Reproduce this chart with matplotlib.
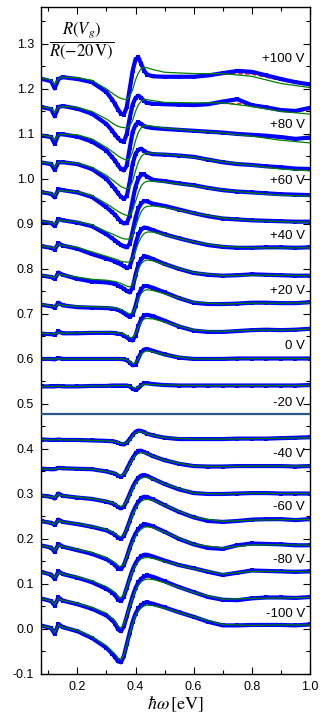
import matplotlib
matplotlib.use("Agg")
import matplotlib.pyplot as plt
from matplotlib.ticker import MultipleLocator, FormatStrFormatter

plt.rcParams["font.family"] = ["Liberation Sans", "DejaVu Sans"]
plt.rcParams["mathtext.fontset"] = "stix"
plt.rcParams["axes.unicode_minus"] = False

# photon energy grids (eV)
X_DATA = [0.08, 0.11, 0.122, 0.135, 0.15,
          0.20, 0.25, 0.30, 0.32, 0.33,
          0.34, 0.35, 0.36, 0.37, 0.38, 0.39, 0.40, 0.41, 0.42, 0.43, 0.44,
          0.46, 0.50, 0.55, 0.60, 0.65,
          0.70, 0.75, 0.80, 0.85, 0.90, 0.95, 1.00]
X_FIT = [0.08, 0.11, 0.122, 0.135, 0.15,
         0.20, 0.25, 0.30, 0.33,
         0.34, 0.35, 0.36, 0.37, 0.38, 0.39, 0.40, 0.41, 0.42, 0.43, 0.44,
         0.46, 0.50, 0.60, 0.70, 0.80, 0.90, 1.00]

# measured ratio (blue squares), offset curves from +100 V down to -100 V
D_P100 = [1.222, 1.217, 1.201, 1.222, 1.226, 1.222, 1.215, 1.193, 1.176, 1.166,
          1.154, 1.145, 1.143, 1.160, 1.200, 1.240, 1.266, 1.270, 1.255, 1.240, 1.232,
          1.228, 1.227, 1.227, 1.227, 1.230, 1.235, 1.240, 1.238, 1.230, 1.222, 1.215, 1.210]
D_P90 = [1.159, 1.155, 1.139, 1.160, 1.162, 1.156, 1.145, 1.122, 1.107, 1.098,
         1.090, 1.084, 1.083, 1.100, 1.135, 1.165, 1.180, 1.185, 1.180, 1.173, 1.169,
         1.167, 1.166, 1.165, 1.164, 1.166, 1.172, 1.177, 1.164, 1.159, 1.153, 1.151, 1.158]
D_P80 = [1.096, 1.093, 1.078, 1.099, 1.099, 1.094, 1.083, 1.063, 1.048, 1.040,
         1.030, 1.022, 1.019, 1.030, 1.068, 1.104, 1.120, 1.126, 1.122, 1.117, 1.115,
         1.113, 1.111, 1.109, 1.107, 1.105, 1.103, 1.100, 1.098, 1.096, 1.093, 1.089, 1.092]
D_P70 = [1.036, 1.033, 1.020, 1.037, 1.037, 1.033, 1.022, 1.000, 0.985, 0.977,
         0.968, 0.960, 0.956, 0.962, 0.993, 1.033, 1.056, 1.065, 1.067, 1.062, 1.058,
         1.055, 1.054, 1.052, 1.049, 1.043, 1.037, 1.033, 1.031, 1.028, 1.026, 1.023, 1.022]
D_P60 = [0.970, 0.967, 0.959, 0.977, 0.975, 0.970, 0.960, 0.937, 0.926, 0.920,
         0.912, 0.905, 0.901, 0.902, 0.918, 0.952, 0.983, 1.001, 1.010, 1.010, 1.005,
         0.998, 0.995, 0.990, 0.986, 0.980, 0.975, 0.972, 0.970, 0.968, 0.966, 0.965, 0.964]
D_P50 = [0.905, 0.902, 0.895, 0.911, 0.908, 0.903, 0.895, 0.877, 0.868, 0.863,
         0.858, 0.853, 0.850, 0.848, 0.856, 0.883, 0.914, 0.935, 0.946, 0.951, 0.950,
         0.945, 0.940, 0.932, 0.924, 0.917, 0.912, 0.910, 0.908, 0.907, 0.906, 0.905, 0.905]
D_P40 = [0.850, 0.847, 0.843, 0.857, 0.852, 0.845, 0.833, 0.823, 0.819, 0.816,
         0.813, 0.810, 0.806, 0.802, 0.805, 0.826, 0.856, 0.877, 0.888, 0.892, 0.891,
         0.886, 0.877, 0.868, 0.860, 0.853, 0.849, 0.847, 0.847, 0.848, 0.848, 0.847, 0.848]
D_P30 = [0.785, 0.782, 0.778, 0.792, 0.787, 0.778, 0.772, 0.770, 0.768, 0.766,
         0.763, 0.760, 0.756, 0.751, 0.748, 0.758, 0.787, 0.810, 0.822, 0.828, 0.827,
         0.822, 0.811, 0.800, 0.791, 0.787, 0.785, 0.786, 0.788, 0.787, 0.786, 0.785, 0.785]
D_P20 = [0.720, 0.717, 0.714, 0.725, 0.719, 0.715, 0.714, 0.713, 0.712, 0.711,
         0.709, 0.706, 0.702, 0.697, 0.694, 0.698, 0.718, 0.742, 0.756, 0.762, 0.762,
         0.758, 0.748, 0.735, 0.725, 0.722, 0.722, 0.723, 0.725, 0.725, 0.724, 0.724, 0.726]
D_P10 = [0.656, 0.655, 0.654, 0.661, 0.657, 0.657, 0.658, 0.658, 0.658, 0.657,
         0.656, 0.655, 0.652, 0.648, 0.643, 0.641, 0.652, 0.673, 0.689, 0.697, 0.698,
         0.695, 0.685, 0.672, 0.663, 0.660, 0.660, 0.662, 0.664, 0.665, 0.664, 0.665, 0.667]
D_0 = [0.600, 0.600, 0.599, 0.602, 0.600, 0.600, 0.600, 0.600, 0.600, 0.600,
       0.600, 0.600, 0.599, 0.597, 0.592, 0.586, 0.587, 0.602, 0.615, 0.621, 0.622,
       0.618, 0.610, 0.603, 0.600, 0.600, 0.600, 0.601, 0.601, 0.601, 0.601, 0.601, 0.601]
D_M10 = [0.539, 0.539, 0.539, 0.540, 0.539, 0.539, 0.540, 0.540, 0.541, 0.541,
         0.541, 0.541, 0.541, 0.541, 0.539, 0.534, 0.531, 0.535, 0.542, 0.546, 0.546,
         0.544, 0.542, 0.541, 0.541, 0.541, 0.541, 0.541, 0.541, 0.541, 0.541, 0.541, 0.542]
D_M30 = [0.421, 0.420, 0.420, 0.421, 0.420, 0.420, 0.419, 0.418, 0.417, 0.416,
         0.414, 0.411, 0.410, 0.414, 0.422, 0.431, 0.438, 0.441, 0.440, 0.437, 0.434,
         0.430, 0.425, 0.422, 0.422, 0.422, 0.422, 0.423, 0.423, 0.423, 0.424, 0.425, 0.426]
D_M40 = [0.356, 0.355, 0.355, 0.358, 0.357, 0.356, 0.355, 0.350, 0.347, 0.345,
         0.341, 0.338, 0.343, 0.355, 0.368, 0.380, 0.390, 0.396, 0.396, 0.393, 0.390,
         0.384, 0.375, 0.367, 0.362, 0.361, 0.361, 0.362, 0.362, 0.362, 0.362, 0.361, 0.362]
D_M50 = [0.296, 0.294, 0.290, 0.301, 0.296, 0.292, 0.289, 0.283, 0.279, 0.276,
         0.271, 0.268, 0.272, 0.285, 0.300, 0.315, 0.327, 0.336, 0.341, 0.342, 0.340,
         0.334, 0.322, 0.310, 0.302, 0.300, 0.300, 0.301, 0.302, 0.302, 0.301, 0.301, 0.301]
D_M60 = [0.239, 0.236, 0.231, 0.243, 0.238, 0.233, 0.227, 0.219, 0.213, 0.209,
         0.203, 0.200, 0.207, 0.222, 0.240, 0.258, 0.272, 0.283, 0.291, 0.294, 0.293,
         0.288, 0.275, 0.260, 0.248, 0.240, 0.238, 0.240, 0.243, 0.244, 0.244, 0.242, 0.244]
D_M70 = [0.185, 0.181, 0.171, 0.189, 0.183, 0.175, 0.167, 0.155, 0.147, 0.142,
         0.134, 0.133, 0.142, 0.160, 0.180, 0.198, 0.212, 0.222, 0.229, 0.233, 0.232,
         0.228, 0.216, 0.200, 0.188, 0.180, 0.178, 0.186, 0.190, 0.189, 0.188, 0.186, 0.186]
D_M80 = [0.126, 0.121, 0.111, 0.128, 0.122, 0.114, 0.104, 0.089, 0.081, 0.075,
         0.065, 0.062, 0.072, 0.092, 0.113, 0.132, 0.146, 0.156, 0.162, 0.165, 0.165,
         0.161, 0.152, 0.142, 0.135, 0.127, 0.120, 0.125, 0.130, 0.129, 0.128, 0.127, 0.128]
D_M90 = [0.067, 0.062, 0.052, 0.070, 0.063, 0.055, 0.045, 0.030, 0.019, 0.012,
         -0.001, -0.005, 0.006, 0.028, 0.051, 0.073, 0.091, 0.104, 0.112, 0.117, 0.119,
         0.116, 0.106, 0.093, 0.082, 0.071, 0.065, 0.064, 0.068, 0.070, 0.070, 0.069, 0.071]
D_M100 = [0.007, 0.002, -0.011, 0.011, 0.004, -0.005, -0.020, -0.042, -0.055, -0.063,
          -0.072, -0.074, -0.060, -0.034, -0.008, 0.016, 0.034, 0.046, 0.053, 0.058, 0.059,
          0.056, 0.048, 0.037, 0.027, 0.016, 0.008, 0.008, 0.009, 0.009, 0.009, 0.008, 0.010]

# fit (red dashed)
F_P100 = [1.222, 1.217, 1.204, 1.221, 1.225, 1.223, 1.216, 1.196, 1.170,
          1.158, 1.150, 1.147, 1.153, 1.182, 1.222, 1.256, 1.268, 1.258, 1.243, 1.234,
          1.229, 1.228, 1.228, 1.234, 1.233, 1.219, 1.207]
F_P90 = [1.159, 1.155, 1.141, 1.159, 1.161, 1.157, 1.147, 1.125, 1.101,
         1.093, 1.087, 1.086, 1.095, 1.125, 1.158, 1.177, 1.183, 1.180, 1.174, 1.170,
         1.168, 1.167, 1.165, 1.168, 1.166, 1.155, 1.150]
F_P80 = [1.096, 1.093, 1.080, 1.098, 1.098, 1.095, 1.085, 1.066, 1.043,
         1.034, 1.026, 1.023, 1.030, 1.060, 1.097, 1.117, 1.124, 1.122, 1.118, 1.116,
         1.114, 1.112, 1.107, 1.103, 1.099, 1.093, 1.088]
F_P70 = [1.036, 1.033, 1.022, 1.036, 1.036, 1.034, 1.024, 1.003, 0.980,
         0.971, 0.963, 0.959, 0.962, 0.988, 1.027, 1.053, 1.063, 1.066, 1.062, 1.059,
         1.056, 1.054, 1.049, 1.038, 1.031, 1.026, 1.022]
F_P60 = [0.970, 0.967, 0.961, 0.975, 0.974, 0.971, 0.961, 0.940, 0.922,
         0.915, 0.908, 0.904, 0.904, 0.915, 0.946, 0.978, 0.998, 1.007, 1.008, 1.004,
         0.998, 0.995, 0.986, 0.975, 0.970, 0.966, 0.964]
F_P50 = [0.905, 0.902, 0.897, 0.910, 0.907, 0.903, 0.896, 0.879, 0.865,
         0.860, 0.855, 0.852, 0.850, 0.855, 0.878, 0.909, 0.931, 0.943, 0.948, 0.948,
         0.944, 0.939, 0.924, 0.912, 0.908, 0.906, 0.905]
F_P40 = [0.850, 0.847, 0.845, 0.855, 0.851, 0.845, 0.834, 0.824, 0.818,
         0.815, 0.811, 0.808, 0.804, 0.806, 0.822, 0.851, 0.873, 0.885, 0.890, 0.890,
         0.886, 0.877, 0.860, 0.849, 0.847, 0.848, 0.848]
F_P30 = [0.785, 0.782, 0.779, 0.790, 0.786, 0.779, 0.773, 0.770, 0.767,
         0.764, 0.761, 0.757, 0.753, 0.750, 0.757, 0.783, 0.806, 0.819, 0.825, 0.826,
         0.822, 0.811, 0.791, 0.785, 0.787, 0.786, 0.785]
F_P20 = [0.720, 0.717, 0.715, 0.723, 0.719, 0.715, 0.714, 0.713, 0.711,
         0.709, 0.706, 0.703, 0.699, 0.695, 0.698, 0.715, 0.738, 0.752, 0.759, 0.760,
         0.757, 0.747, 0.725, 0.722, 0.724, 0.724, 0.725]
F_P10 = [0.656, 0.655, 0.655, 0.660, 0.657, 0.657, 0.658, 0.658, 0.657,
         0.656, 0.655, 0.652, 0.648, 0.644, 0.642, 0.651, 0.670, 0.685, 0.693, 0.695,
         0.693, 0.684, 0.663, 0.660, 0.664, 0.664, 0.666]
F_0 = [0.600, 0.600, 0.600, 0.601, 0.600, 0.600, 0.600, 0.600, 0.600,
       0.600, 0.600, 0.599, 0.597, 0.592, 0.587, 0.588, 0.601, 0.613, 0.619, 0.620,
       0.617, 0.610, 0.600, 0.600, 0.601, 0.601, 0.601]
F_M10 = [0.539, 0.539, 0.539, 0.540, 0.539, 0.539, 0.540, 0.540, 0.541,
         0.541, 0.541, 0.541, 0.541, 0.539, 0.535, 0.532, 0.536, 0.542, 0.545, 0.545,
         0.544, 0.542, 0.541, 0.541, 0.541, 0.541, 0.541]
F_M30 = [0.421, 0.420, 0.420, 0.421, 0.420, 0.420, 0.419, 0.418, 0.416,
         0.414, 0.412, 0.411, 0.414, 0.421, 0.430, 0.437, 0.440, 0.439, 0.437, 0.434,
         0.430, 0.425, 0.422, 0.422, 0.423, 0.424, 0.425]
F_M40 = [0.356, 0.355, 0.355, 0.357, 0.357, 0.356, 0.355, 0.350, 0.345,
         0.341, 0.339, 0.343, 0.354, 0.367, 0.379, 0.389, 0.394, 0.395, 0.393, 0.390,
         0.384, 0.375, 0.362, 0.361, 0.362, 0.362, 0.362]
F_M50 = [0.296, 0.294, 0.291, 0.300, 0.296, 0.292, 0.289, 0.283, 0.276,
         0.271, 0.269, 0.273, 0.285, 0.300, 0.314, 0.326, 0.334, 0.339, 0.340, 0.339,
         0.334, 0.322, 0.302, 0.300, 0.302, 0.301, 0.301]
F_M60 = [0.239, 0.236, 0.232, 0.242, 0.238, 0.233, 0.227, 0.219, 0.209,
         0.203, 0.201, 0.207, 0.221, 0.239, 0.256, 0.270, 0.281, 0.288, 0.291, 0.291,
         0.287, 0.275, 0.248, 0.239, 0.242, 0.243, 0.243]
F_M70 = [0.185, 0.181, 0.172, 0.188, 0.183, 0.176, 0.168, 0.156, 0.143,
         0.136, 0.134, 0.142, 0.159, 0.178, 0.196, 0.210, 0.220, 0.226, 0.229, 0.229,
         0.226, 0.215, 0.188, 0.180, 0.187, 0.187, 0.186]
F_M80 = [0.126, 0.121, 0.112, 0.127, 0.122, 0.115, 0.105, 0.091, 0.077,
         0.068, 0.064, 0.072, 0.091, 0.111, 0.130, 0.144, 0.153, 0.159, 0.161, 0.161,
         0.158, 0.150, 0.134, 0.122, 0.128, 0.128, 0.127]
F_M90 = [0.067, 0.062, 0.053, 0.069, 0.063, 0.056, 0.046, 0.032, 0.014,
         0.002, -0.003, 0.007, 0.028, 0.050, 0.071, 0.088, 0.101, 0.109, 0.113, 0.115,
         0.113, 0.104, 0.081, 0.066, 0.068, 0.069, 0.070]
F_M100 = [0.007, 0.002, -0.010, 0.010, 0.004, -0.004, -0.019, -0.040, -0.061,
          -0.069, -0.072, -0.060, -0.035, -0.009, 0.015, 0.032, 0.044, 0.051, 0.055, 0.056,
          0.054, 0.047, 0.027, 0.010, 0.008, 0.009, 0.009]

# model (green solid)
M_P100 = [1.224, 1.220, 1.210, 1.222, 1.226, 1.225, 1.219, 1.200, 1.186,
          1.182, 1.179, 1.177, 1.177, 1.183, 1.198, 1.220, 1.236, 1.245, 1.248, 1.247,
          1.243, 1.237, 1.234, 1.234, 1.228, 1.212, 1.203]
M_P90 = [1.160, 1.157, 1.147, 1.159, 1.161, 1.159, 1.150, 1.133, 1.120,
         1.117, 1.115, 1.114, 1.113, 1.118, 1.130, 1.150, 1.165, 1.173, 1.176, 1.176,
         1.174, 1.170, 1.169, 1.169, 1.161, 1.150, 1.144]
M_P80 = [1.097, 1.094, 1.086, 1.098, 1.099, 1.098, 1.089, 1.070, 1.056,
         1.051, 1.047, 1.044, 1.042, 1.045, 1.060, 1.085, 1.104, 1.114, 1.118, 1.119,
         1.117, 1.113, 1.107, 1.102, 1.095, 1.086, 1.080]
M_P70 = [1.037, 1.034, 1.026, 1.037, 1.037, 1.035, 1.026, 1.008, 0.993,
         0.988, 0.983, 0.980, 0.978, 0.981, 0.995, 1.018, 1.038, 1.050, 1.056, 1.058,
         1.057, 1.055, 1.048, 1.038, 1.030, 1.022, 1.018]
M_P60 = [0.971, 0.968, 0.963, 0.974, 0.974, 0.971, 0.963, 0.945, 0.932,
         0.928, 0.924, 0.921, 0.919, 0.920, 0.930, 0.950, 0.970, 0.985, 0.992, 0.995,
         0.995, 0.993, 0.985, 0.975, 0.969, 0.964, 0.962]
M_P50 = [0.906, 0.903, 0.899, 0.909, 0.907, 0.905, 0.898, 0.883, 0.875,
         0.872, 0.869, 0.867, 0.866, 0.867, 0.875, 0.893, 0.913, 0.928, 0.936, 0.939,
         0.940, 0.937, 0.924, 0.913, 0.908, 0.905, 0.904]
M_P40 = [0.851, 0.848, 0.846, 0.855, 0.852, 0.848, 0.838, 0.828, 0.822,
         0.820, 0.817, 0.816, 0.815, 0.816, 0.823, 0.840, 0.858, 0.871, 0.879, 0.882,
         0.882, 0.876, 0.860, 0.850, 0.847, 0.847, 0.847]
M_P30 = [0.786, 0.783, 0.781, 0.789, 0.786, 0.782, 0.777, 0.775, 0.772,
         0.770, 0.768, 0.765, 0.762, 0.760, 0.765, 0.782, 0.800, 0.812, 0.818, 0.820,
         0.818, 0.810, 0.792, 0.785, 0.786, 0.786, 0.785]
M_P20 = [0.721, 0.718, 0.716, 0.722, 0.719, 0.717, 0.716, 0.715, 0.713,
         0.712, 0.710, 0.707, 0.703, 0.700, 0.703, 0.716, 0.734, 0.746, 0.752, 0.754,
         0.752, 0.745, 0.726, 0.722, 0.724, 0.724, 0.725]
M_P10 = [0.657, 0.656, 0.655, 0.659, 0.657, 0.658, 0.659, 0.659, 0.658,
         0.658, 0.657, 0.655, 0.652, 0.648, 0.647, 0.656, 0.671, 0.683, 0.689, 0.690,
         0.689, 0.682, 0.664, 0.661, 0.664, 0.664, 0.666]
M_0 = [0.600, 0.600, 0.600, 0.601, 0.600, 0.600, 0.600, 0.600, 0.600,
       0.600, 0.600, 0.600, 0.598, 0.594, 0.590, 0.591, 0.601, 0.611, 0.616, 0.618,
       0.616, 0.609, 0.600, 0.600, 0.601, 0.601, 0.601]
M_M10 = [0.539, 0.539, 0.539, 0.540, 0.539, 0.539, 0.540, 0.540, 0.541,
         0.541, 0.541, 0.541, 0.541, 0.540, 0.537, 0.535, 0.537, 0.541, 0.544, 0.544,
         0.543, 0.542, 0.541, 0.541, 0.541, 0.541, 0.541]
M_M30 = [0.421, 0.420, 0.420, 0.421, 0.420, 0.420, 0.419, 0.418, 0.416,
         0.415, 0.413, 0.412, 0.414, 0.420, 0.428, 0.435, 0.438, 0.438, 0.436, 0.434,
         0.430, 0.425, 0.422, 0.422, 0.423, 0.424, 0.425]
M_M40 = [0.356, 0.355, 0.355, 0.357, 0.357, 0.356, 0.355, 0.350, 0.346,
         0.343, 0.341, 0.344, 0.353, 0.365, 0.376, 0.385, 0.390, 0.392, 0.391, 0.389,
         0.384, 0.375, 0.362, 0.361, 0.362, 0.362, 0.362]
M_M50 = [0.296, 0.294, 0.292, 0.299, 0.296, 0.293, 0.290, 0.284, 0.278,
         0.274, 0.272, 0.275, 0.285, 0.298, 0.311, 0.322, 0.330, 0.335, 0.337, 0.337,
         0.333, 0.322, 0.302, 0.300, 0.302, 0.301, 0.301]
M_M60 = [0.239, 0.236, 0.233, 0.241, 0.238, 0.234, 0.228, 0.221, 0.212,
         0.207, 0.205, 0.210, 0.222, 0.238, 0.254, 0.267, 0.277, 0.284, 0.287, 0.288,
         0.286, 0.275, 0.248, 0.239, 0.242, 0.243, 0.243]
M_M70 = [0.185, 0.181, 0.174, 0.187, 0.183, 0.177, 0.170, 0.159, 0.147,
         0.141, 0.139, 0.145, 0.160, 0.177, 0.193, 0.206, 0.216, 0.222, 0.226, 0.227,
         0.225, 0.215, 0.188, 0.180, 0.187, 0.187, 0.186]
M_M80 = [0.126, 0.121, 0.114, 0.126, 0.122, 0.116, 0.107, 0.094, 0.081,
         0.073, 0.069, 0.076, 0.092, 0.111, 0.128, 0.141, 0.150, 0.156, 0.158, 0.159,
         0.157, 0.150, 0.134, 0.122, 0.128, 0.128, 0.127]
M_M90 = [0.067, 0.062, 0.055, 0.068, 0.063, 0.057, 0.048, 0.035, 0.018,
         0.007, 0.002, 0.011, 0.030, 0.050, 0.069, 0.085, 0.097, 0.105, 0.109, 0.111,
         0.110, 0.103, 0.081, 0.066, 0.068, 0.069, 0.070]
M_M100 = [0.007, 0.002, -0.008, 0.009, 0.004, -0.003, -0.017, -0.037, -0.056,
          -0.064, -0.068, -0.058, -0.036, -0.011, 0.012, 0.029, 0.040, 0.047, 0.051, 0.053,
          0.052, 0.046, 0.027, 0.010, 0.008, 0.009, 0.009]

LABELS = ["+100 V", "+80 V", "+60 V", "+40 V", "+20 V", "0 V",
          "-20 V", "-40 V", "-60 V", "-80 V", "-100 V"]
LABEL_Y = [1.267, 1.120, 0.995, 0.873, 0.751, 0.629,
           0.502, 0.389, 0.270, 0.153, 0.033]

CURVES = [
    (D_P100, F_P100, M_P100), (D_P90, F_P90, M_P90), (D_P80, F_P80, M_P80),
    (D_P70, F_P70, M_P70), (D_P60, F_P60, M_P60), (D_P50, F_P50, M_P50),
    (D_P40, F_P40, M_P40), (D_P30, F_P30, M_P30), (D_P20, F_P20, M_P20),
    (D_P10, F_P10, M_P10), (D_0, F_0, M_0), (D_M10, F_M10, M_M10),
    (D_M30, F_M30, M_M30), (D_M40, F_M40, M_M40), (D_M50, F_M50, M_M50),
    (D_M60, F_M60, M_M60), (D_M70, F_M70, M_M70), (D_M80, F_M80, M_M80),
    (D_M90, F_M90, M_M90), (D_M100, F_M100, M_M100),
]

fig = plt.figure(figsize=(3.27, 7.25), dpi=100)
ax = fig.add_axes([41 / 327, 51 / 725, 269 / 327, 667 / 725])

for data, fit, model in CURVES:
    # red fit mostly hides under the data band, as in the original
    ax.plot(X_FIT, fit, color="red", lw=1.0, ls=(0, (3, 2)), zorder=1)
    ax.plot(X_DATA, data, color="#0000ff", lw=3.0, marker="s", ms=2.8, mew=0,
            solid_joinstyle="round", zorder=2)
    ax.plot(X_FIT, model, color="#008000", lw=0.9, zorder=4)

# boundary between the two gate-voltage groups
ax.axhline(0.478, color="#2a5888", lw=1.6, zorder=5)

for text, y in zip(LABELS, LABEL_Y):
    ax.text(0.982, y, text, ha="right", va="center", fontsize=9.5)

ax.text(0.216, 1.307, r"$\dfrac{R(V_g)}{R(-20\,\mathrm{V})}$",
        ha="center", va="center", fontsize=12)

ax.set_xlim(0.075, 1.0)
ax.set_ylim(-0.1, 1.382)
ax.xaxis.set_major_locator(MultipleLocator(0.2))
ax.xaxis.set_minor_locator(MultipleLocator(0.1))
ax.yaxis.set_major_locator(MultipleLocator(0.1))
ax.yaxis.set_minor_locator(MultipleLocator(0.05))
ax.xaxis.set_major_formatter(FormatStrFormatter("%.1f"))
ax.yaxis.set_major_formatter(FormatStrFormatter("%.1f"))
ax.tick_params(which="both", direction="in", top=True, right=True, width=0.8)
ax.tick_params(which="major", length=5, labelsize=9, pad=5)
ax.tick_params(which="minor", length=3)
for sp in ax.spines.values():
    sp.set_linewidth(1.0)

ax.set_xlabel(r"$\hbar\omega\,[\mathrm{eV}]$", fontsize=13, labelpad=1)

fig.savefig("out.png", dpi=100)
